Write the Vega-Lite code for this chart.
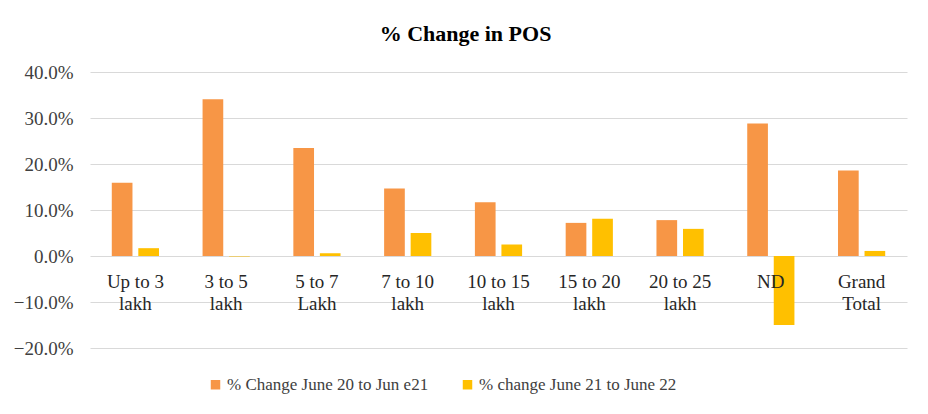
{
  "$schema": "https://vega.github.io/schema/vega-lite/v6.json",
  "autosize": {"type": "none"},
  "width": 817,
  "height": 276,
  "padding": {"left": 90, "top": 72, "right": 21, "bottom": 66},
  "background": "white",
  "title": {"text": "% Change in POS", "font": "Liberation Serif", "fontSize": 22, "fontWeight": "bold", "color": "#000000", "anchor": "middle", "dx": -33, "offset": 17},
  "data": {"values": [
    {"cat": "Up to 3|lakh", "series": "% Change June 20 to Jun e21", "value": 0.159},
    {"cat": "Up to 3|lakh", "series": "% change June 21 to June 22", "value": 0.017},
    {"cat": "3 to  5|lakh", "series": "% Change June 20 to Jun e21", "value": 0.341},
    {"cat": "3 to  5|lakh", "series": "% change June 21 to June 22", "value": -0.001},
    {"cat": "5  to  7|Lakh", "series": "% Change June 20 to Jun e21", "value": 0.235},
    {"cat": "5  to  7|Lakh", "series": "% change June 21 to June 22", "value": 0.006},
    {"cat": "7 to 10|lakh", "series": "% Change June 20 to Jun e21", "value": 0.147},
    {"cat": "7 to 10|lakh", "series": "% change June 21 to June 22", "value": 0.050},
    {"cat": "10 to 15|lakh", "series": "% Change June 20 to Jun e21", "value": 0.117},
    {"cat": "10 to 15|lakh", "series": "% change June 21 to June 22", "value": 0.025},
    {"cat": "15 to 20|lakh", "series": "% Change June 20 to Jun e21", "value": 0.072},
    {"cat": "15 to 20|lakh", "series": "% change June 21 to June 22", "value": 0.081},
    {"cat": "20 to 25|lakh", "series": "% Change June 20 to Jun e21", "value": 0.078},
    {"cat": "20 to 25|lakh", "series": "% change June 21 to June 22", "value": 0.059},
    {"cat": "ND", "series": "% Change June 20 to Jun e21", "value": 0.288},
    {"cat": "ND", "series": "% change June 21 to June 22", "value": -0.150},
    {"cat": "Grand|Total", "series": "% Change June 20 to Jun e21", "value": 0.186},
    {"cat": "Grand|Total", "series": "% change June 21 to June 22", "value": 0.011}
  ]},
  "mark": {"type": "bar"},
  "encoding": {
    "x": {
      "field": "cat", "type": "nominal", "sort": null,
      "scale": {"paddingInner": 0.48, "paddingOuter": 0.24},
      "axis": {
        "title": null, "domain": false, "ticks": false, "grid": false, "zindex": 1,
        "labelAngle": 0, "offset": -92, "labelPadding": 16,
        "labelExpr": "split(datum.label, '|')",
        "labelFont": "Liberation Serif", "labelFontSize": 19, "labelColor": "#262626",
        "labelLineHeight": 22, "labelBaseline": "top", "labelLimit": 0
      }
    },
    "xOffset": {"field": "series", "type": "nominal", "scale": {"paddingInner": 0.22}},
    "y": {
      "field": "value", "type": "quantitative",
      "scale": {"domain": [-0.2, 0.4], "nice": false, "zero": true},
      "axis": {
        "title": null, "format": ".1%", "values": [-0.2, -0.1, 0, 0.1, 0.2, 0.3, 0.4],
        "domain": false, "ticks": false, "labelPadding": 17,
        "gridColor": "#d9d9d9", "gridWidth": 1,
        "labelFont": "Liberation Serif", "labelFontSize": 19, "labelColor": "#404040"
      }
    },
    "color": {
      "field": "series", "type": "nominal",
      "scale": {"domain": ["% Change June 20 to Jun e21", "% change June 21 to June 22"], "range": ["#F79646", "#FFC000"]},
      "legend": {
        "title": null, "orient": "none", "direction": "horizontal",
        "legendX": 117, "legendY": 304,
        "symbolType": "square", "symbolSize": 90, "symbolStrokeWidth": 0,
        "labelFont": "Liberation Serif", "labelFontSize": 17, "labelColor": "#404040",
        "columnPadding": 30, "labelOffset": 3, "labelLimit": 0
      }
    }
  },
  "config": {"view": {"stroke": null}}
}
